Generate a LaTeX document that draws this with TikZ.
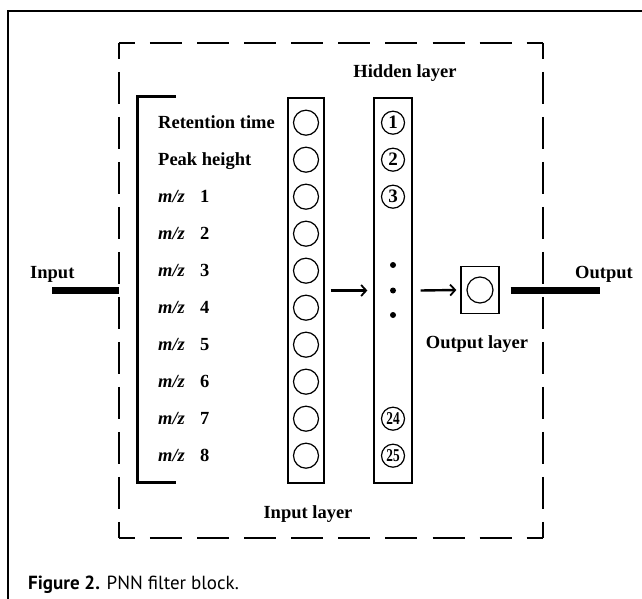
\documentclass[tikz,border=0pt]{standalone}
\usepackage{fontspec}
\setmainfont{Liberation Serif}
\newfontfamily\capfont{PT Sans}
\usetikzlibrary{arrows.meta}
\begin{document}
\begin{tikzpicture}[x=1pt,y=-1pt,
  lab/.style={font=\fontsize{18.5}{20}\selectfont\bfseries, inner sep=0pt, anchor=base west},
  ttl/.style={font=\fontsize{18.5}{20}\selectfont\bfseries, inner sep=0pt, anchor=base},
  layerbox/.style={draw, line width=1.3pt, inner sep=0pt, minimum height=385pt},
  incirc/.style={draw, circle, line width=1.2pt, minimum size=25pt, inner sep=0pt},
  numcirc/.style={draw, circle, line width=1.2pt, minimum size=23pt, inner sep=0pt, font=\fontsize{19}{19}\selectfont\bfseries},
  hdot/.style={fill, circle, minimum size=6pt, inner sep=0pt},
  arr/.style={line width=2.4pt, -{Straight Barb[length=5pt,width=11pt,line width=1.8pt]}},
  bar/.style={line width=7pt},
  hside/.style={line width=1.8pt, dash pattern=on 32pt off 15.1pt, dash phase=16pt},
  vside/.style={line width=1.8pt, dash pattern=on 32pt off 13pt, dash phase=16pt},
]
\useasboundingbox (0,0) rectangle (642,599);
% outer frame
\draw[line width=1.3pt] (8,599) -- (8,11) -- (642,11);
% dashed block
\node[inner sep=0pt, minimum width=424pt, minimum height=495pt] (frame) at (331,290.5) {};
\draw[hside] (frame.north west) -- (frame.north east);
\draw[hside] (frame.south west) -- (frame.south east);
\draw[vside] (frame.north west) -- (frame.south west);
\draw[vside] (frame.north east) -- (frame.south east);
% titles
\node[ttl] (hl) at (405,78) {Hidden layer};
\node[ttl] (il) at (308,518) {Input layer};
\node[ttl] (ol) at (477,348) {Output layer};
\node[lab] (inlab) at (30,278) {Input};
\node[lab] (outlab) at (575,278) {Output};
% bracket
\draw[line width=3pt] (176,97) -- (137,97) -- (137,482.5) -- (176,482.5);
% layer boxes
\node[layerbox, minimum width=36pt] (inbox) at (306,290.5) {};
\node[layerbox, minimum width=38pt] (hidbox) at (393,290.5) {};
% input neurons and labels
\foreach \i in {0,...,9}{
  \node[incirc] (in\i) at (306,{122.7+37*\i}) {};
}
\node[lab] (l0) at (158,128.7) {Retention time};
\node[lab] (l1) at (158,165.7) {Peak height};
\foreach \k in {1,...,8}{
  \node[lab] (mz\k) at (158,{122.7+37*(\k+1)+6}) {\textit{m/z}};
  \node[lab] (n\k) at (200,{122.7+37*(\k+1)+6}) {\k};
}
% hidden neurons
\node[numcirc] (h1) at (393,122.7) {1};
\node[numcirc] (h2) at (393,159.7) {2};
\node[numcirc] (h3) at (393,196.7) {3};
\node[hdot] (d1) at (393,265) {};
\node[hdot] (d2) at (393,290.5) {};
\node[hdot] (d3) at (393,315) {};
\node[numcirc] (h24) at (393,418.7) {\scalebox{0.7}[0.95]{24}};
\node[numcirc] (h25) at (393,455.7) {\scalebox{0.7}[0.95]{25}};
% output layer
\node[draw, line width=1.3pt, minimum width=38pt, minimum height=47pt, inner sep=0pt] (outbox) at (480,290) {};
\node[incirc, minimum size=26pt] (outc) at (outbox.center) {};
% connectors
\draw[arr] ([xshift=6pt]inbox.east) -- ([xshift=-6pt]hidbox.west);
\draw[arr] ([xshift=8pt]hidbox.east) -- ([xshift=-4pt]outbox.west);
\coordinate (instart) at (52,290);
\draw[bar] (instart) -- (instart -| frame.west);
\coordinate (outend) at (600,290);
\draw[bar] ([xshift=11pt]outbox.east) -- (outend);
% caption
\node[anchor=base west, inner sep=0pt, font=\capfont\fontsize{19}{21}\selectfont] (cap) at (28,589) {\textbf{Figure 2.} PNN filter block.};
\end{tikzpicture}
\end{document}
